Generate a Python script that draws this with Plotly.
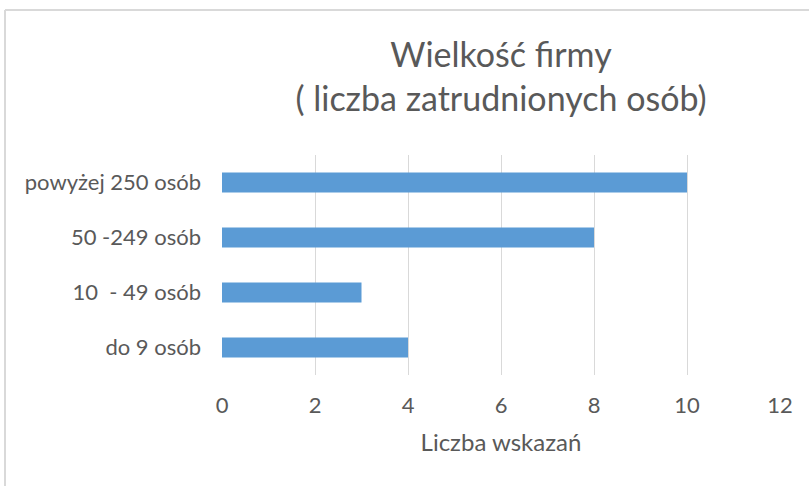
import plotly.graph_objects as go

categories = ["do 9 osób", "10  - 49 osób", "50 -249 osób", "powyżej 250 osób"]
values = [4, 3, 8, 10]
x_ticks = [0, 2, 4, 6, 8, 10, 12]
title_text = "Wielkość firmy<br>( liczba zatrudnionych osób)"
x_title = "Liczba wskazań"

FONT = "Lato, Calibri, sans-serif"
GREY = "#595959"

fig = go.Figure(go.Bar(
    y=categories, x=values, orientation="h",
    marker=dict(color="#5B9BD5", line=dict(width=0)),
    width=0.36,
))

L, R, T, B = 222, 29, 155, 111
W, H = 809, 486
pw, ph = W - L - R, H - T - B

fig.update_layout(
    width=W, height=H,
    margin=dict(l=L, r=R, t=T, b=B, pad=0),
    paper_bgcolor="white", plot_bgcolor="white",
    showlegend=False,
    title=dict(text=title_text, x=0.5, xref="paper", xanchor="center",
               y=1 - 67 / H, yanchor="middle",
               font=dict(family=FONT, size=34, color=GREY)),
    font=dict(family=FONT, color=GREY),
    xaxis=dict(range=[0, 12], tickvals=x_ticks, showgrid=True,
               gridcolor="#d9d9d9", gridwidth=1, zeroline=False,
               showline=False, ticks="", ticklen=0,
               tickfont=dict(size=22, color=GREY), ticklabelstandoff=15,
               title=dict(text=x_title, font=dict(size=24, color=GREY), standoff=17)),
    yaxis=dict(showgrid=False, zeroline=False, showline=False, ticks="",
               tickfont=dict(size=22, color=GREY), ticklabelstandoff=20),
    bargap=0.64,
)

# chart frame (light grey border, top and left visible)
x_left = (5 - L) / pw
y_top = 1 + (T - 10) / ph
fig.add_shape(type="line", xref="paper", yref="paper",
              x0=x_left, x1=(W + 5 - L) / pw, y0=y_top, y1=y_top,
              line=dict(color="#d9d9d9", width=2))
fig.add_shape(type="line", xref="paper", yref="paper",
              x0=x_left, x1=x_left, y0=y_top, y1=(T - H - 5) / ph,
              line=dict(color="#d9d9d9", width=2))

fig.write_html("out.html", config={"displayModeBar": False},
               post_script="document.body.style.margin='0';")
